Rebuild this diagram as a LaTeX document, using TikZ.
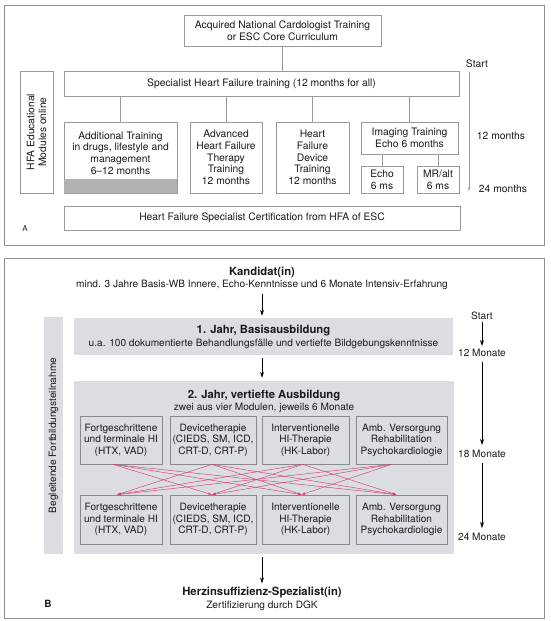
\documentclass[tikz,border=0pt]{standalone}
\usepackage{fontspec}
\setmainfont{TeX Gyre Heros}
\usetikzlibrary{arrows.meta}
\definecolor{frm}{HTML}{8E8E8E}
\definecolor{boxA}{HTML}{9A9A9A}
\definecolor{boxB}{HTML}{8A8A8A}
\definecolor{band}{HTML}{B2B2B6}
\definecolor{gfill}{HTML}{DCDDE2}
\definecolor{redc}{HTML}{D4406E}
\definecolor{txt}{HTML}{1A1A1A}
\tikzset{
  fA/.style={font=\fontsize{10.3}{11.7}\selectfont},
  fB/.style={font=\fontsize{10.1}{11.5}\selectfont},
  abox/.style={draw=boxA, line width=0.6pt, fill=white, inner sep=0pt, align=center, text=txt, fA},
  bbox/.style={draw=boxB, line width=0.7pt, fill=gfill, inner sep=0pt, align=center, text=txt, fB},
  gpanel/.style={fill=gfill, draw=none, inner sep=0pt, align=center, text=txt, fB},
  plain/.style={inner sep=0pt, align=center, text=txt},
  conA/.style={draw=boxA, line width=0.6pt},
  grayarr/.style={draw=boxA, line width=0.6pt, -{Stealth[length=4pt,width=2.6pt]}},
  blkarr/.style={draw=black, line width=0.9pt, -{Stealth[length=6pt,width=4pt]}},
  redarr/.style={draw=redc, line width=0.45pt, -{Stealth[length=4pt,width=2.4pt]}},
  frame/.style={draw=frm, line width=0.8pt},
}
\begin{document}
\begin{tikzpicture}[x=1pt,y=-1pt]
\useasboundingbox (0,0) rectangle (550,621);
% ---------------- Panel A ----------------
\draw[frame] (4,5) rectangle (544,245);
\node[abox, minimum width=197pt, minimum height=31pt] (top) at (282.5,30.5)
  {Acquired National Cardologist Training\\or ESC Core Curriculum};
\node[abox, minimum width=395pt, minimum height=25pt] (spec) at (261.5,83.5)
  {Specialist Heart Failure training (12 months for all)};
\node[abox, rotate=90, minimum width=122pt, minimum height=33pt] (hfa) at (36.5,132)
  {HFA Educational\\Modules online};
\node[abox, minimum width=113pt, minimum height=71pt] (b1) at (120.5,157.5) {};
\fill[band] ([xshift=0.3pt,yshift=0.3pt]b1.south west) rectangle ([xshift=-0.3pt,yshift=14pt]b1.south east);
\node[plain, fA] (b1t) at (120.5,153)
  {Additional Training\\in drugs, lifestyle and\\management\\6--12 months};
\node[abox, minimum width=72pt, minimum height=71pt] (b2) at (226,157.5)
  {Advanced\\Heart Failure\\Therapy\\Training\\12 months};
\node[abox, minimum width=73pt, minimum height=71pt] (b3) at (312.5,157.5)
  {Heart\\Failure\\Device\\Training\\12 months};
\node[abox, minimum width=97pt, minimum height=32pt] (img) at (409.5,138)
  {Imaging Training\\Echo 6 months};
\node[abox, minimum width=42pt, minimum height=27pt] (echo) at (382,179.5) {Echo\\6 ms};
\node[abox, minimum width=42pt, minimum height=27pt] (mr) at (438,179.5) {MR/alt\\6 ms};
\node[abox, minimum width=396pt, minimum height=24pt] (cert) at (262,218)
  {Heart Failure Specialist Certification from HFA of ESC};
\draw[conA] (top.south) -- (spec.north -| top.south);
\draw[conA] (spec.south -| b1.north) -- (b1.north);
\draw[conA] (spec.south -| b2.north) -- (b2.north);
\draw[conA] (spec.south -| b3.north) -- (b3.north);
\draw[conA] (spec.south -| img.north) -- (img.north);
\draw[conA] (img.south -| echo.north) -- (echo.north);
\draw[conA] (img.south -| mr.north) -- (mr.north);
\node[plain, fA] (startA) at (477,64) {Start};
\node[plain, fA] (m12A) at (501,136) {12 months};
\node[plain, fA] (m24A) at (503,189) {24 months};
\coordinate (axA1) at (469,72);
\coordinate (axA2) at (469,191);
\draw[grayarr] (axA1) -- (axA2);
\node[plain, font=\fontsize{8}{9}\selectfont] (labA) at (25,229) {A};
% ---------------- Panel B ----------------
\draw[frame] (4,258) rectangle (544,618);
\node[plain, font=\bfseries\fontsize{11.3}{12}\selectfont] (kand) at (262,272) {Kandidat(in)};
\node[plain, fB] (kands) at (262,284.5)
  {mind. 3 Jahre Basis-WB Innere, Echo-Kenntnisse und 6 Monate Intensiv-Erfahrung};
\node[gpanel, rotate=90, minimum width=237pt, minimum height=19pt] (side) at (53.5,435.5)
  {Begleitende Fortbildungsteilnahme};
\node[gpanel, minimum width=379pt, minimum height=37pt] (y1) at (263.5,336.5) {};
\node[plain, font=\bfseries\fontsize{11.3}{12}\selectfont] (y1a) at (263.5,331) {1. Jahr, Basisausbildung};
\node[plain, fB] (y1b) at (263.5,343.5)
  {u.a. 100 dokumentierte Behandlungsfälle und vertiefte Bildgebungskenntnisse};
\node[gpanel, minimum width=380pt, minimum height=173pt] (y2) at (264,467.5) {};
\node[plain, font=\bfseries\fontsize{11.3}{12}\selectfont] (y2a) at (264,396) {2. Jahr, vertiefte Ausbildung};
\node[plain, fB] (y2b) at (264,408) {zwei aus vier Modulen, jeweils 6 Monate};
% modules
\node[bbox, minimum width=82pt, minimum height=48pt] (m1) at (121,440) {Fortgeschrittene\\und terminale HI\\(HTX, VAD)};
\node[bbox, minimum width=86pt, minimum height=48pt] (m2) at (213,440) {Devicetherapie\\(CIEDS, SM, ICD,\\CRT-D, CRT-P)};
\node[bbox, minimum width=87pt, minimum height=48pt] (m3) at (305.5,440) {Interventionelle\\HI-Therapie\\(HK-Labor)};
\node[bbox, minimum width=91pt, minimum height=48pt] (m4) at (401.5,440) {Amb. Versorgung\\Rehabilitation\\Psychokardiologie};
\node[bbox, minimum width=82pt, minimum height=49pt] (n1) at (121,519.5) {Fortgeschrittene\\und terminale HI\\(HTX, VAD)};
\node[bbox, minimum width=86pt, minimum height=49pt] (n2) at (213,519.5) {Devicetherapie\\(CIEDS, SM, ICD,\\CRT-D, CRT-P)};
\node[bbox, minimum width=87pt, minimum height=49pt] (n3) at (305.5,519.5) {Interventionelle\\HI-Therapie\\(HK-Labor)};
\node[bbox, minimum width=91pt, minimum height=49pt] (n4) at (401.5,519.5) {Amb. Versorgung\\Rehabilitation\\Psychokardiologie};
% red arrows
\coordinate (s1) at ([xshift=-8pt]m1.south);
\coordinate (s2) at ([xshift=-1pt]m2.south);
\coordinate (s3) at ([xshift=-3pt]m3.south);
\coordinate (s4) at ([xshift=-10pt]m4.south);
\coordinate (t1) at ([xshift=-4pt]n1.north);
\coordinate (t2) at ([xshift=-1pt]n2.north);
\coordinate (t3) at ([xshift=-4pt]n3.north);
\coordinate (t4) at ([xshift=-5pt]n4.north);
\foreach \s/\t in {1/2,1/3,1/4,2/1,2/3,2/4,3/1,3/2,3/4,4/1,4/2,4/3}
  \draw[redarr] (s\s) -- (t\t);
% black arrows
\draw[blkarr, shorten <=4pt, shorten >=2pt] (kands.south) -- (y1.north -| kands.south);
\draw[blkarr, shorten <=3pt, shorten >=3pt] (y1.south -| kands.south) -- (y2.north -| kands.south);
\node[plain, font=\bfseries\fontsize{11.3}{12}\selectfont] (spz) at (262,593) {Herzinsuffizienz-Spezialist(in)};
\node[plain, fB] (spzs) at (262,605.5) {Zertifizierung durch DGK};
\draw[blkarr, shorten <=3pt, shorten >=4pt] (y2.south -| spz.north) -- (spz.north);
\node[plain, fB] (startB) at (482,316) {Start};
\node[plain, fB] (m12B) at (482,353) {12 Monate};
\node[plain, fB] (m18B) at (482,454) {18 Monate};
\node[plain, fB] (m24B) at (482,537) {24 Monate};
\draw[blkarr, shorten <=2pt, shorten >=3pt] (startB.south) -- (m12B.north);
\draw[blkarr, shorten <=5pt, shorten >=5pt] (m12B.south) -- (m18B.north);
\draw[blkarr, shorten <=5pt, shorten >=5pt] (m18B.south) -- (m24B.north);
\node[plain, font=\bfseries\fontsize{10}{11}\selectfont] (labB) at (48,604) {B};
\end{tikzpicture}
\end{document}
